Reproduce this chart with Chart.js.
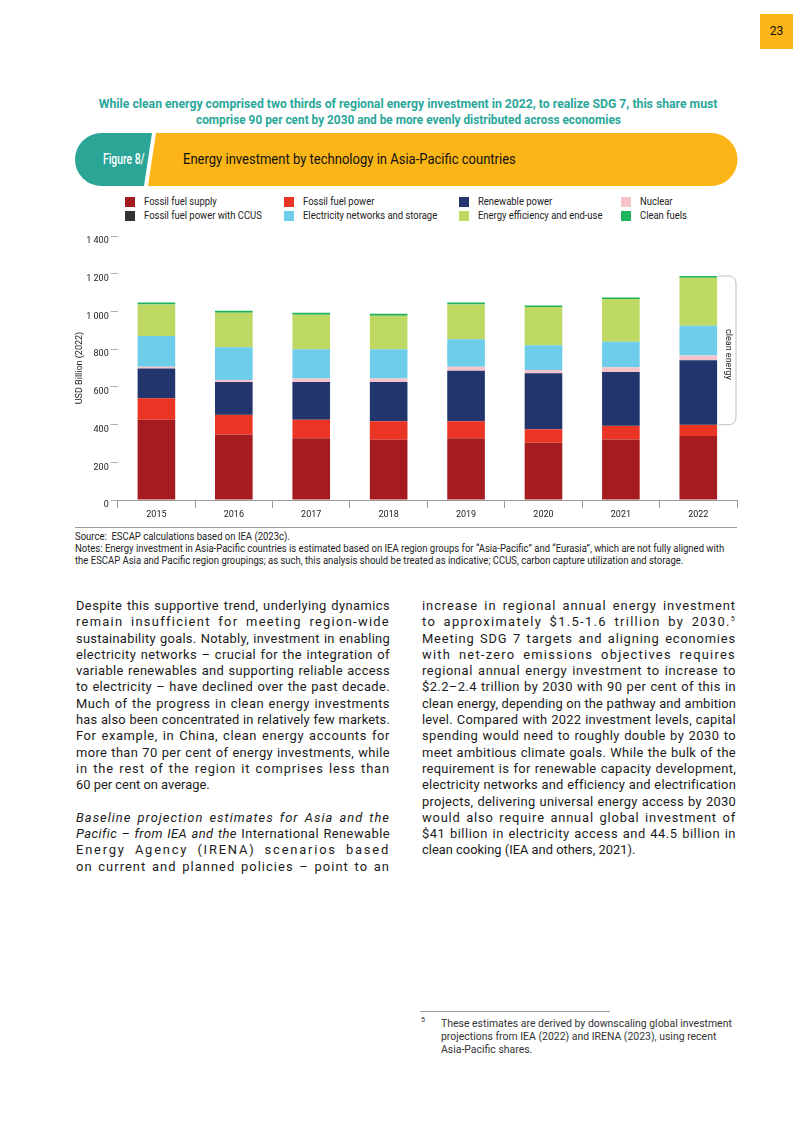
<!DOCTYPE html>
<html>
<head>
<meta charset="utf-8">
<script src="https://cdn.jsdelivr.net/npm/chart.js@4.4.1/dist/chart.umd.min.js"></script>
<style>
  html, body { margin: 0; padding: 0; background: #fff; }
  body { width: 793px; height: 1122px; position: relative; overflow: hidden; font-family: Roboto, "Noto Sans", sans-serif; color: #1a1a1a; }
  .abs { position: absolute; }
  .cond { display: inline-block; transform-origin: left center; white-space: nowrap; }
  #pageNo { left: 760px; top: 14px; width: 33px; height: 35px; background: #fbb517; font-size: 12px; line-height: 35px; text-align: center; color: #111; }
  #headline { left: 12px; top: 96px; width: 793px; text-align: center; color: #2aa79a; font-weight: bold; font-size: 13px; line-height: 16px; }
  #headline .cond { transform-origin: center center; transform: scaleX(0.94); }
  #headline .cond.l2 { transform: scaleX(0.91); }
  #banner { left: 75px; top: 133px; }
  #figNo { left: 103px; top: 150px; color: #fff; font-size: 14px; font-weight: 500; line-height: 18px; }
  #figTitle { left: 183px; top: 150px; color: #111; font-size: 14px; line-height: 18px; }
  #legend { left: 125px; top: 195px; display: grid; grid-template-columns: 159px 175px 162px 100px; grid-auto-rows: 14px; font-size: 10.5px; color: #222; }
  #legend .item { position: relative; height: 14px; }
  #legend .sw { position: absolute; left: 0; top: 2px; width: 10px; height: 10px; }
  #legend .cond { position: absolute; left: 19px; top: 0; line-height: 14px; transform: scaleX(0.9); }
  #chartBox { left: 70px; top: 225px; width: 680px; height: 300px; }
  #rule { left: 75px; top: 527px; width: 662px; height: 1px; background: #9a9a9a; }
  #notes { left: 75px; top: 531px; font-size: 10px; line-height: 12px; color: #222; }
  #notes .cond { transform: scaleX(0.95); display: block; }
  .col { top: 598px; width: 314px; font-size: 12.9px; line-height: 16.3px; color: #1a1a1a; }
  .col .ln { white-space: nowrap; text-align: justify; text-align-last: justify; height: 16.3px; }
  .col .ln.last { text-align-last: left; }
  .col .gap { height: 16.3px; }
  .col sup { font-size: 7px; vertical-align: 5px; line-height: 0; }
  #fnRule { left: 420px; top: 1011px; width: 190px; height: 1px; background: #9a9a9a; }
  #fnNum { left: 421px; top: 1016px; font-size: 7px; color: #333; }
  #fnText { left: 441px; top: 1017px; font-size: 11px; line-height: 13px; color: #333; }
  #fnText .cond { display: block; transform: scaleX(0.95); }
</style>
</head>
<body>

<div id="pageNo" class="abs">23</div>

<div id="headline" class="abs">
  <span class="cond">While clean energy comprised two thirds of regional energy investment in 2022, to realize SDG 7, this share must</span><br>
  <span class="cond l2">comprise 90 per cent by 2030 and be more evenly distributed across economies</span>
</div>

<svg id="banner" class="abs" width="663" height="53" viewBox="0 0 663 53">
  <path d="M26.5,0 H77 L69,53 H26.5 A26.5,26.5 0 0 1 26.5,0 Z" fill="#2ba596"/>
  <path d="M81,0 H636 A26.5,26.5 0 0 1 636,53 H73 Z" fill="#fbb517"/>
</svg>
<div id="figNo" class="abs"><span class="cond" style="transform:scaleX(0.74)">Figure 8/</span></div>
<div id="figTitle" class="abs"><span class="cond" style="transform:scaleX(0.93)">Energy investment by technology in Asia-Pacific countries</span></div>

<div id="legend" class="abs"></div>

<div id="chartBox" class="abs"><canvas id="myChart"></canvas></div>

<div id="rule" class="abs"></div>
<div id="notes" class="abs">
  <span class="cond">Source:&nbsp; ESCAP calculations based on IEA (2023c).</span>
  <span class="cond">Notes: Energy investment in Asia-Pacific countries is estimated based on IEA region groups for “Asia-Pacific” and “Eurasia”, which are not fully aligned with</span>
  <span class="cond">the ESCAP Asia and Pacific region groupings; as such, this analysis should be treated as indicative; CCUS, carbon capture utilization and storage.</span>
</div>

<div class="abs col" style="left:76px">
  <div class="ln">Despite this supportive trend, underlying dynamics</div>
  <div class="ln">remain insufficient for meeting region-wide</div>
  <div class="ln">sustainability goals. Notably, investment in enabling</div>
  <div class="ln">electricity networks – crucial for the integration of</div>
  <div class="ln">variable renewables and supporting reliable access</div>
  <div class="ln">to electricity – have declined over the past decade.</div>
  <div class="ln">Much of the progress in clean energy investments</div>
  <div class="ln">has also been concentrated in relatively few markets.</div>
  <div class="ln">For example, in China, clean energy accounts for</div>
  <div class="ln">more than 70 per cent of energy investments, while</div>
  <div class="ln">in the rest of the region it comprises less than</div>
  <div class="ln last">60 per cent on average.</div>
  <div class="gap"></div>
  <div class="ln"><i>Baseline projection estimates for Asia and the</i></div>
  <div class="ln"><i>Pacific – from IEA and the</i> International Renewable</div>
  <div class="ln">Energy Agency (IRENA) scenarios based</div>
  <div class="ln">on current and planned policies – point to an</div>
</div>

<div class="abs col" style="left:422px">
  <div class="ln">increase in regional annual energy investment</div>
  <div class="ln">to approximately $1.5-1.6 trillion by 2030.<sup>5</sup></div>
  <div class="ln">Meeting SDG 7 targets and aligning economies</div>
  <div class="ln">with net-zero emissions objectives requires</div>
  <div class="ln">regional annual energy investment to increase to</div>
  <div class="ln">$2.2–2.4 trillion by 2030 with 90 per cent of this in</div>
  <div class="ln">clean energy, depending on the pathway and ambition</div>
  <div class="ln">level. Compared with 2022 investment levels, capital</div>
  <div class="ln">spending would need to roughly double by 2030 to</div>
  <div class="ln">meet ambitious climate goals. While the bulk of the</div>
  <div class="ln">requirement is for renewable capacity development,</div>
  <div class="ln">electricity networks and efficiency and electrification</div>
  <div class="ln">projects, delivering universal energy access by 2030</div>
  <div class="ln">would also require annual global investment of</div>
  <div class="ln">$41 billion in electricity access and 44.5 billion in</div>
  <div class="ln last">clean cooking (IEA and others, 2021).</div>
</div>

<div id="fnRule" class="abs"></div>
<div id="fnNum" class="abs">5</div>
<div id="fnText" class="abs">
  <span class="cond">These estimates are derived by downscaling global investment</span>
  <span class="cond">projections from IEA (2022) and IRENA (2023), using recent</span>
  <span class="cond">Asia-Pacific shares.</span>
</div>

<script>
(function () {
    "use strict";

    // data, USD billion (2022)
    var years = ['2015', '2016', '2017', '2018', '2019', '2020', '2021', '2022'];
    var fossilSupply = [425, 347, 328, 319, 328, 303, 321, 339];
    var fossilPower = [114, 104, 97, 98, 89, 72, 71, 59];
    var fossilCcus = [2, 1, 1, 1, 1, 1, 2, 1];
    var renewablePower = [156, 174, 200, 208, 268, 296, 285, 342];
    var nuclear = [10, 11, 18, 18, 20, 18, 25, 25];
    var networks = [163, 173, 156, 156, 147, 131, 135, 158];
    var efficiency = [167, 183, 182, 177, 184, 202, 227, 255];
    var cleanFuels = [11, 11, 11, 11, 11, 9, 8, 9];
    var yTicks = [0, 200, 400, 600, 800, 1000, 1200, 1400];

    var seriesNames = ['Fossil fuel supply', 'Fossil fuel power', 'Fossil fuel power with CCUS', 'Renewable power',
        'Nuclear', 'Electricity networks and storage', 'Energy efficiency and end-use', 'Clean fuels'];
    var seriesData = [fossilSupply, fossilPower, fossilCcus, renewablePower, nuclear, networks, efficiency, cleanFuels];
    var seriesColors = ['#a51c20', '#ea3524', '#333333', '#22366d', '#f6c3cb', '#6dcdea', '#bed864', '#1db35c'];
    var legendOrder = [0, 1, 3, 4, 2, 5, 6, 7];

    // legend (4 columns x 2 rows, as in the report)
    var legend = document.getElementById('legend');
    legendOrder.forEach(function (i) {
        var item = document.createElement('div');
        item.className = 'item';
        item.innerHTML = '<span class="sw" style="background:' + seriesColors[i] + '"></span><span class="cond">' + seriesNames[i] + '</span>';
        legend.appendChild(item);
    });

    // justified body lines: most of the slack goes into letter spacing
    document.querySelectorAll('.col .ln').forEach(function (ln) {
        if (ln.classList.contains('last')) return;
        var w = ln.getBoundingClientRect().width;
        ln.style.textAlign = 'left';
        ln.style.textAlignLast = 'left';
        var range = document.createRange();
        range.selectNodeContents(ln);
        var natural = range.getBoundingClientRect().width;
        ln.style.textAlign = '';
        ln.style.textAlignLast = '';
        var n = ln.textContent.length;
        var extra = w - natural;
        var ls = extra < 0 ? extra / n : extra * 0.8 / n;
        ln.style.letterSpacing = ls.toFixed(3) + 'px';
    });

    var cleanBracket = {
        id: 'cleanBracket',
        afterDatasetsDraw: function (chart) {
            var ctx = chart.ctx;
            var y = chart.scales.y;
            var last = years.length - 1;
            var bar = chart.getDatasetMeta(seriesData.length - 1).data[last];
            var total = 0, fossil = fossilSupply[last] + fossilPower[last] + fossilCcus[last];
            seriesData.forEach(function (s) { total += s[last]; });
            var top = y.getPixelForValue(total);
            var bottom = y.getPixelForValue(fossil);
            var x0 = bar.x + bar.width / 2 + 1;
            var rx = chart.chartArea.right - 1;
            var r = 7;
            ctx.save();
            ctx.strokeStyle = '#bdbdbd';
            ctx.lineWidth = 1;
            ctx.beginPath();
            ctx.moveTo(x0, top);
            ctx.lineTo(rx - r, top);
            ctx.arcTo(rx, top, rx, top + r, r);
            ctx.lineTo(rx, bottom - r);
            ctx.arcTo(rx, bottom, rx - r, bottom, r);
            ctx.lineTo(x0, bottom);
            ctx.stroke();
            ctx.translate((x0 + rx) / 2 + 1, (top + bottom) / 2 + 4);
            ctx.rotate(Math.PI / 2);
            ctx.fillStyle = '#222';
            ctx.font = '9px Roboto';
            ctx.textAlign = 'center';
            ctx.textBaseline = 'middle';
            ctx.fillText('clean energy', 0, 0);
            ctx.restore();
        }
    };

    var ctx = document.getElementById('myChart').getContext('2d');
    var chart = new Chart(ctx, {
        type: 'bar',
        data: {
            labels: years,
            datasets: seriesData.map(function (d, i) {
                return {
                    label: seriesNames[i],
                    data: d,
                    backgroundColor: seriesColors[i],
                    borderWidth: 0,
                    categoryPercentage: 1,
                    barPercentage: 0.486
                };
            })
        },
        options: {
            responsive: true,
            maintainAspectRatio: false,
            animation: false,
            layout: { padding: { top: 11, right: 13, left: 0, bottom: 0 } },
            plugins: {
                legend: { display: false },
                tooltip: { enabled: false }
            },
            scales: {
                x: {
                    stacked: true,
                    afterFit: function (scale) { scale.height = 25; },
                    border: { display: true, color: '#9a9a9a' },
                    grid: { display: true, offset: true, drawOnChartArea: false, drawTicks: true, tickLength: 8, color: '#9a9a9a' },
                    ticks: { color: '#222', font: { family: 'Roboto', size: 9 }, padding: 1, maxRotation: 0 }
                },
                y: {
                    stacked: true,
                    min: 0,
                    max: 1400,
                    afterFit: function (scale) { scale.width = 47.7; },
                    afterBuildTicks: function (scale) { scale.ticks = yTicks.map(function (v) { return { value: v }; }); },
                    border: { display: false },
                    grid: { display: true, drawOnChartArea: false, drawTicks: true, tickLength: 7, color: '#b0b0b0' },
                    title: { display: true, text: 'USD Billion (2022)', color: '#222', font: { family: 'Roboto', size: 9 }, padding: { top: 4, bottom: 0 } },
                    ticks: {
                        color: '#222',
                        font: { family: 'Roboto', size: 9 },
                        padding: 2,
                        labelOffset: 5,
                        callback: function (v) { return String(v).replace(/\B(?=(\d{3})+(?!\d))/g, ' '); }
                    }
                }
            }
        },
        plugins: [cleanBracket]
    });
})();
</script>
</body>
</html>
